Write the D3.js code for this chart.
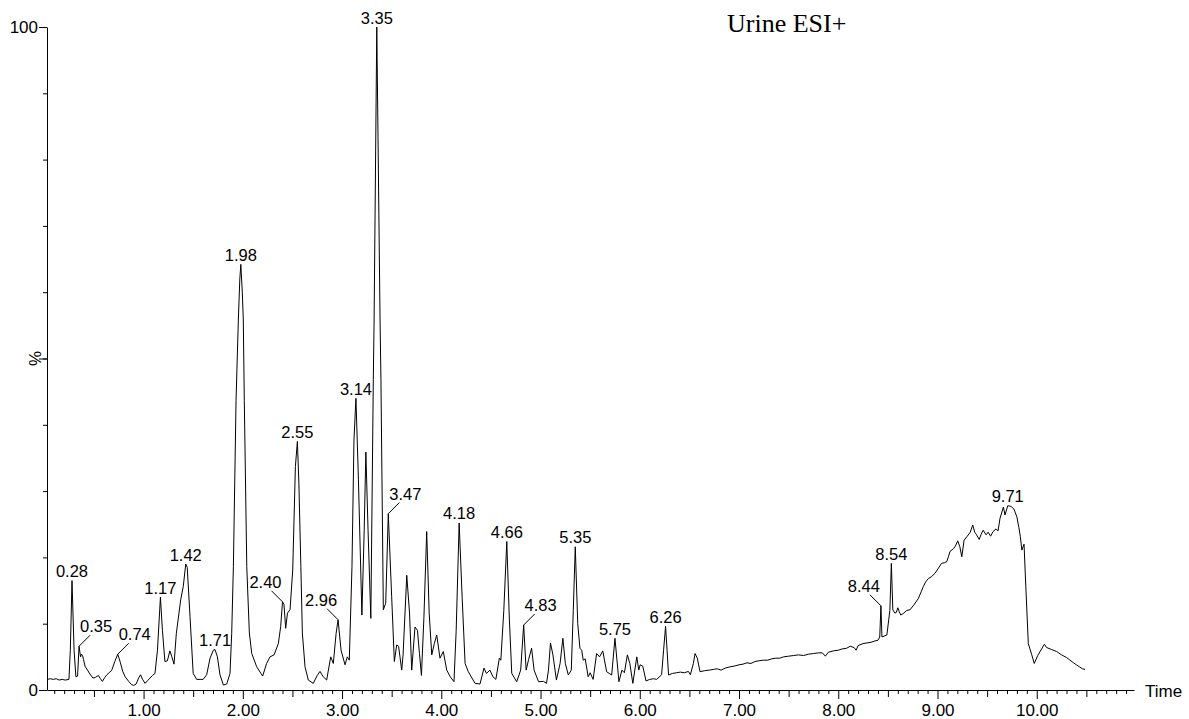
<!DOCTYPE html>
<html>
<head>
<meta charset="utf-8">
<script src="https://cdnjs.cloudflare.com/ajax/libs/d3/7.8.5/d3.min.js"></script>
<style>
  body { margin: 0; background: #fff; }
  svg { font-family: "Liberation Sans", Arial, sans-serif; }
  .trace { fill: none; stroke: #000; stroke-width: 1; }
  .axis path, .axis line { stroke: #000; }
  .axis text { font-size: 17px; fill: #000; }
  .peak { font-size: 16.5px; fill: #000; }
  .leader { stroke: #000; stroke-width: 1; }
</style>
</head>
<body>
<svg id="chart" width="1189" height="719"></svg>
<script>
// chromatogram, [retention time (min), relative intensity (%)]
const trace = [
  [0.03,1.6],[0.06,1.7],[0.09,1.6],[0.12,1.7],[0.15,1.5],[0.18,1.6],[0.21,1.5],[0.248,1.6],
  [0.262,6],[0.279,16.5],[0.30,6],[0.318,2.0],[0.335,2.1],[0.35,6.6],[0.365,5.0],[0.375,5.4],
  [0.385,5.2],[0.395,4.6],[0.41,3.6],[0.435,3.0],[0.46,2.4],[0.49,1.8],[0.515,1.9],[0.545,2.2],
  [0.565,1.7],[0.585,1.3],[0.61,1.9],[0.63,2.3],[0.66,2.7],[0.68,3.0],[0.71,4.3],[0.74,5.4],
  [0.765,4.2],[0.79,2.8],[0.815,2.0],[0.85,1.3],[0.88,0.8],[0.90,0.7],[0.925,0.9],[0.95,1.8],
  [0.97,2.3],[0.99,1.6],[1.015,1.0],[1.04,1.4],[1.065,1.8],[1.09,2.2],[1.115,2.5],[1.14,6],
  [1.17,14.0],[1.19,9],[1.215,4.3],[1.24,4.4],[1.265,5.9],[1.285,5.0],[1.307,3.9],[1.33,8.5],
  [1.374,13.6],[1.40,15.6],[1.425,19.0],[1.44,18.5],[1.468,11.1],[1.50,2.5],[1.535,1.6],[1.57,1.6],
  [1.60,1.6],[1.636,2.3],[1.67,4.8],[1.703,6.0],[1.72,6.1],[1.744,5.0],[1.77,2.3],[1.804,0.75],
  [1.838,0.9],[1.871,2.5],[1.888,8.5],[1.905,18.6],[1.932,43.7],[1.955,55.8],[1.97,62],[1.98,64.2],
  [1.995,60],[2.005,55.8],[2.015,43.7],[2.04,18.6],[2.066,8.6],[2.09,5.5],[2.14,3.5],[2.20,2.1],
  [2.24,4.0],[2.274,5.0],[2.315,5.3],[2.358,7.0],[2.382,9.6],[2.40,13.3],[2.415,12.9],[2.432,9.3],
  [2.45,11.6],[2.476,12.1],[2.503,18.1],[2.53,33.7],[2.55,37.5],[2.565,31.2],[2.585,18.6],[2.60,8.6],
  [2.627,3.5],[2.66,1.5],[2.71,1.0],[2.75,2.2],[2.778,2.8],[2.81,2.0],[2.845,1.5],[2.886,5.0],
  [2.912,4.0],[2.94,8.5],[2.96,10.6],[2.99,6.0],[3.03,3.8],[3.053,5.0],[3.073,4.5],[3.10,18.6],
  [3.12,37.7],[3.14,44.0],[3.165,31.7],[3.20,11.3],[3.223,24],[3.24,35.9],[3.262,24.1],[3.29,10.8],
  [3.315,46.8],[3.323,55.8],[3.35,100],[3.383,55.8],[3.392,46.8],[3.416,12.1],[3.44,13.1],[3.466,26.6],
  [3.50,14.1],[3.527,4.3],[3.551,6.8],[3.57,6.6],[3.601,3.0],[3.615,5.3],[3.652,17.3],[3.68,11.6],
  [3.702,3.0],[3.735,9.5],[3.76,9.0],[3.78,5.5],[3.80,2.2],[3.825,11],[3.853,23.9],[3.878,11.6],
  [3.904,5.3],[3.93,7.0],[3.954,8.3],[3.987,4.8],[4.02,5.8],[4.055,3.0],[4.09,2.0],[4.128,1.25],
  [4.15,9],[4.18,25.2],[4.21,14],[4.24,4],[4.272,2.76],[4.34,1.0],[4.39,0.9],[4.43,3.3],
  [4.455,2.5],[4.49,3.0],[4.52,2.0],[4.55,1.6],[4.585,4.8],[4.60,4.5],[4.63,12],[4.66,22.4],
  [4.685,11],[4.71,2.5],[4.76,1.25],[4.80,3],[4.83,9.8],[4.855,3.0],[4.88,4.6],[4.91,6.3],
  [4.935,3.0],[4.98,1.25],[5.03,1.3],[5.06,1.0],[5.08,3],[5.10,7.1],[5.125,5.3],[5.16,1.5],
  [5.197,4.0],[5.225,7.8],[5.25,4.0],[5.28,2.26],[5.31,3.0],[5.33,12],[5.35,21.6],[5.375,10],
  [5.397,6.3],[5.415,6.0],[5.43,4.5],[5.45,4.7],[5.48,2.0],[5.50,2.6],[5.53,1.6],[5.565,5.5],
  [5.595,5.0],[5.627,5.9],[5.666,2.76],[5.717,2.26],[5.75,7.8],[5.79,1.25],[5.82,3.0],[5.845,2.6],
  [5.875,5.3],[5.90,4.0],[5.93,1.0],[5.97,5.0],[5.99,3.0],[6.004,3.8],[6.03,3.6],[6.063,1.36],
  [6.10,1.6],[6.14,1.7],[6.17,1.6],[6.22,2.3],[6.24,6],[6.26,9.6],[6.275,6],[6.29,2.26],
  [6.33,2.5],[6.37,2.6],[6.41,2.7],[6.45,2.6],[6.49,2.8],[6.51,2.3],[6.54,4.0],[6.557,5.5],
  [6.58,4.8],[6.607,2.76],[6.65,2.9],[6.70,3.0],[6.74,3.1],[6.78,3.2],[6.82,3.0],[6.86,3.3],
  [6.91,3.5],[6.95,3.6],[7.0,3.8],[7.04,3.9],[7.08,4.1],[7.12,4.0],[7.16,4.3],[7.20,4.4],
  [7.245,4.5],[7.29,4.5],[7.33,4.7],[7.37,4.8],[7.41,4.8],[7.45,5.0],[7.50,5.1],[7.55,5.2],
  [7.60,5.3],[7.65,5.2],[7.70,5.4],[7.75,5.5],[7.80,5.6],[7.84,5.6],[7.87,5.1],[7.90,5.7],
  [7.95,5.9],[8.0,6.0],[8.04,6.2],[8.085,6.3],[8.12,6.6],[8.16,6.4],[8.18,6.0],[8.20,6.7],
  [8.25,7.0],[8.29,7.1],[8.33,7.2],[8.37,7.4],[8.40,7.5],[8.418,8.0],[8.43,12.7],[8.44,8.0],
  [8.49,8.3],[8.52,12],[8.535,19.1],[8.55,12.1],[8.57,11.6],[8.585,11.7],[8.60,12.4],[8.615,11.8],
  [8.63,11.3],[8.66,11.6],[8.69,12.0],[8.723,12.1],[8.76,12.8],[8.807,13.8],[8.835,14.8],[8.857,15.6],
  [8.88,16.3],[8.908,16.8],[8.94,17.1],[8.975,17.6],[9.01,18.4],[9.04,19.1],[9.07,19.2],[9.093,19.35],
  [9.11,20.1],[9.126,20.9],[9.16,21.3],[9.18,21.7],[9.204,22.5],[9.225,21.6],[9.245,20.1],[9.268,22.6],
  [9.30,23.2],[9.33,23.8],[9.355,24.9],[9.375,23.8],[9.39,23.5],[9.42,22.7],[9.44,23.5],[9.46,24.1],
  [9.49,23.4],[9.51,23.8],[9.535,23.2],[9.56,23.9],[9.59,24.3],[9.61,24.0],[9.63,25.9],[9.664,27.6],
  [9.68,26.4],[9.708,27.8],[9.74,27.7],[9.77,27.3],[9.80,26.1],[9.82,24.5],[9.835,23.1],[9.85,21.1],
  [9.872,22.0],[9.89,15.6],[9.915,7.0],[9.95,5.3],[9.975,4.0],[10.01,5.2],[10.077,6.9],[10.10,6.4],
  [10.15,6.1],[10.2,5.8],[10.25,5.3],[10.30,4.9],[10.335,4.5],[10.37,4.1],[10.40,3.8],[10.43,3.5],
  [10.46,3.2],[10.487,3.1]
];

const peakLabels = ["0.28","0.35","0.74","1.17","1.42","1.71","1.98","2.40","2.55","2.96","3.14",
  "3.35","3.47","4.18","4.66","4.83","5.35","5.75","6.26","8.44","8.54","9.71"];
const xTickValues = [1,2,3,4,5,6,7,8,9,10];
const yTickLabels = [0, 100];
const title = "Urine ESI+";

// labels drawn off to the side with a small leader line (1 = right, -1 = left)
const leaderSide = {"0.35":1, "0.74":1, "2.40":-1, "2.96":-1, "3.47":1, "4.83":1, "8.44":-1};

let svg = d3.select("#chart");

let x = d3.scaleLinear().domain([0.027, 10.98]).range([47, 1134]);
let y = d3.scaleLinear().domain([0, 100]).range([690, 27]);

// x axis: minor every 0.1, medium at .5, major at whole minutes
let minor = d3.range(1, 110).map(d => d / 10).filter(d => d % 0.5 > 0.01 && d % 0.5 < 0.49);
let half = d3.range(0.5, 11, 1);

svg.append("g").attr("class", "axis")
    .attr("transform", "translate(0,690)")
    .call(d3.axisBottom(x).tickValues(minor).tickSize(4).tickSizeOuter(0).tickFormat(""));
svg.append("g").attr("class", "axis")
    .attr("transform", "translate(0,690)")
    .call(d3.axisBottom(x).tickValues(half).tickSize(7).tickSizeOuter(0).tickFormat(""))
    .select(".domain").remove();
svg.append("g").attr("class", "axis")
    .attr("transform", "translate(0,690)")
    .call(d3.axisBottom(x).tickValues(xTickValues).tickSize(9).tickPadding(4.5)
        .tickSizeOuter(0).tickFormat(d3.format(".2f")))
    .select(".domain").remove();

// y axis
svg.append("g").attr("class", "axis")
    .attr("transform", "translate(47,0)")
    .call(d3.axisLeft(y).tickValues(d3.range(10, 100, 10)).tickSize(4).tickSizeOuter(0).tickFormat(""));
svg.append("g").attr("class", "axis")
    .attr("transform", "translate(47,0)")
    .call(d3.axisLeft(y).tickValues([0, 50, 100]).tickSize(8).tickPadding(1).tickSizeOuter(0)
        .tickFormat(d => yTickLabels.includes(d) ? d : ""))
    .select(".domain").remove();

svg.append("text")
    .attr("x", 1145).attr("y", 697)
    .style("font-size", "17px")
    .text("Time");

svg.append("text")
    .attr("transform", "translate(41," + y(50) + ") rotate(-90)")
    .attr("text-anchor", "middle")
    .style("font-size", "17px")
    .text("%");

svg.append("text")
    .attr("x", 727).attr("y", 32)
    .style("font-family", "'Liberation Serif', 'Times New Roman', serif")
    .style("font-size", "26px")
    .text(title);

// the trace
let line = d3.line()
    .x(d => x(d[0]))
    .y(d => y(d[1]));

svg.append("path")
    .datum(trace)
    .attr("class", "trace")
    .attr("d", line);

// peak labels, anchored on the highest trace point near each retention time
let labels = svg.append("g");
for (const lab of peakLabels) {
    let t = +lab;
    let near = trace.filter(d => Math.abs(d[0] - t) <= 0.02);
    let top = near.reduce((a, b) => (b[1] > a[1] ? b : a));
    let px = x(top[0]), py = y(top[1]);
    let side = leaderSide[lab] || 0;

    if (side == 0) {
        labels.append("text").attr("class", "peak")
            .attr("x", px).attr("y", py - 3.5)
            .attr("text-anchor", "middle")
            .text(lab);
    } else {
        labels.append("line").attr("class", "leader")
            .attr("x1", px).attr("y1", py)
            .attr("x2", px + 11 * side).attr("y2", py - 11);
        labels.append("text").attr("class", "peak")
            .attr("x", px + 17 * side).attr("y", py - 14)
            .attr("text-anchor", "middle")
            .text(lab);
    }
}
</script>
</body>
</html>
